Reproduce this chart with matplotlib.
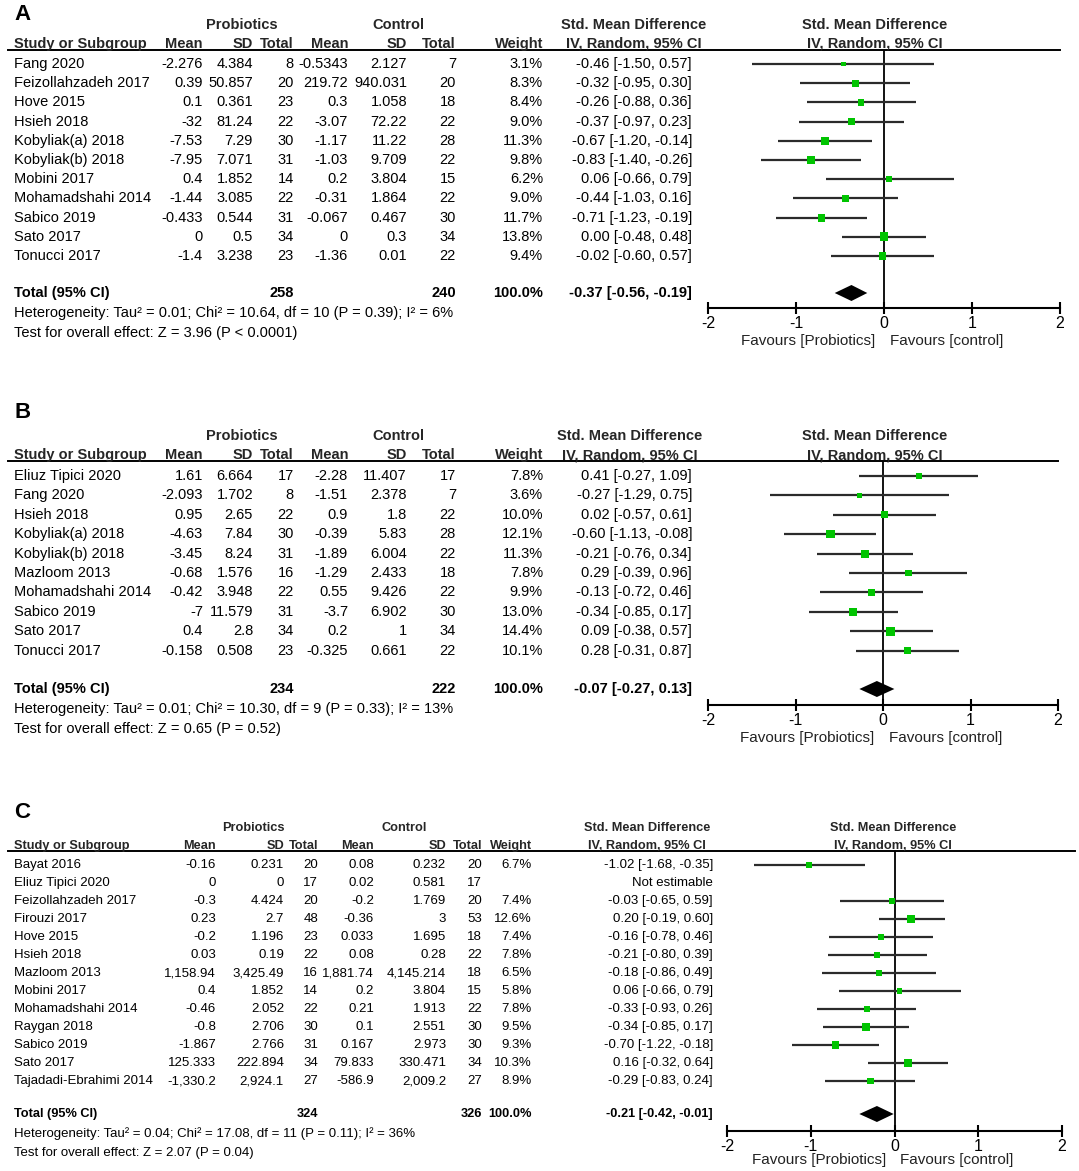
import numpy as np
import matplotlib
matplotlib.use("Agg")
from matplotlib import pyplot as plt

# ---- panel A data ----
studies_a = ["Fang 2020", "Feizollahzadeh 2017", "Hove 2015", "Hsieh 2018", "Kobyliak(a) 2018",
             "Kobyliak(b) 2018", "Mobini 2017", "Mohamadshahi 2014", "Sabico 2019", "Sato 2017", "Tonucci 2017"]
pro_mean_a = ["-2.276", "0.39", "0.1", "-32", "-7.53", "-7.95", "0.4", "-1.44", "-0.433", "0", "-1.4"]
pro_sd_a = ["4.384", "50.857", "0.361", "81.24", "7.29", "7.071", "1.852", "3.085", "0.544", "0.5", "3.238"]
pro_n_a = [8, 20, 23, 22, 30, 31, 14, 22, 31, 34, 23]
ctl_mean_a = ["-0.5343", "219.72", "0.3", "-3.07", "-1.17", "-1.03", "0.2", "-0.31", "-0.067", "0", "-1.36"]
ctl_sd_a = ["2.127", "940.031", "1.058", "72.22", "11.22", "9.709", "3.804", "1.864", "0.467", "0.3", "0.01"]
ctl_n_a = [7, 20, 18, 22, 28, 22, 15, 22, 30, 34, 22]
weight_a = [3.1, 8.3, 8.4, 9.0, 11.3, 9.8, 6.2, 9.0, 11.7, 13.8, 9.4]
smd_a = [-0.46, -0.32, -0.26, -0.37, -0.67, -0.83, 0.06, -0.44, -0.71, 0.00, -0.02]
lo_a = [-1.50, -0.95, -0.88, -0.97, -1.20, -1.40, -0.66, -1.03, -1.23, -0.48, -0.60]
hi_a = [0.57, 0.30, 0.36, 0.23, -0.14, -0.26, 0.79, 0.16, -0.19, 0.48, 0.57]
total_a = [258, 240, -0.37, -0.56, -0.19]
het_a = "Heterogeneity: Tau² = 0.01; Chi² = 10.64, df = 10 (P = 0.39); I² = 6%"
test_a = "Test for overall effect: Z = 3.96 (P < 0.0001)"

# ---- panel B data ----
studies_b = ["Eliuz Tipici 2020", "Fang 2020", "Hsieh 2018", "Kobyliak(a) 2018", "Kobyliak(b) 2018",
             "Mazloom 2013", "Mohamadshahi 2014", "Sabico 2019", "Sato 2017", "Tonucci 2017"]
pro_mean_b = ["1.61", "-2.093", "0.95", "-4.63", "-3.45", "-0.68", "-0.42", "-7", "0.4", "-0.158"]
pro_sd_b = ["6.664", "1.702", "2.65", "7.84", "8.24", "1.576", "3.948", "11.579", "2.8", "0.508"]
pro_n_b = [17, 8, 22, 30, 31, 16, 22, 31, 34, 23]
ctl_mean_b = ["-2.28", "-1.51", "0.9", "-0.39", "-1.89", "-1.29", "0.55", "-3.7", "0.2", "-0.325"]
ctl_sd_b = ["11.407", "2.378", "1.8", "5.83", "6.004", "2.433", "9.426", "6.902", "1", "0.661"]
ctl_n_b = [17, 7, 22, 28, 22, 18, 22, 30, 34, 22]
weight_b = [7.8, 3.6, 10.0, 12.1, 11.3, 7.8, 9.9, 13.0, 14.4, 10.1]
smd_b = [0.41, -0.27, 0.02, -0.60, -0.21, 0.29, -0.13, -0.34, 0.09, 0.28]
lo_b = [-0.27, -1.29, -0.57, -1.13, -0.76, -0.39, -0.72, -0.85, -0.38, -0.31]
hi_b = [1.09, 0.75, 0.61, -0.08, 0.34, 0.96, 0.46, 0.17, 0.57, 0.87]
total_b = [234, 222, -0.07, -0.27, 0.13]
het_b = "Heterogeneity: Tau² = 0.01; Chi² = 10.30, df = 9 (P = 0.33); I² = 13%"
test_b = "Test for overall effect: Z = 0.65 (P = 0.52)"

# ---- panel C data ----
studies_c = ["Bayat 2016", "Eliuz Tipici 2020", "Feizollahzadeh 2017", "Firouzi 2017", "Hove 2015",
             "Hsieh 2018", "Mazloom 2013", "Mobini 2017", "Mohamadshahi 2014", "Raygan 2018",
             "Sabico 2019", "Sato 2017", "Tajadadi-Ebrahimi 2014"]
pro_mean_c = ["-0.16", "0", "-0.3", "0.23", "-0.2", "0.03", "1,158.94", "0.4", "-0.46", "-0.8",
              "-1.867", "125.333", "-1,330.2"]
pro_sd_c = ["0.231", "0", "4.424", "2.7", "1.196", "0.19", "3,425.49", "1.852", "2.052", "2.706",
            "2.766", "222.894", "2,924.1"]
pro_n_c = [20, 17, 20, 48, 23, 22, 16, 14, 22, 30, 31, 34, 27]
ctl_mean_c = ["0.08", "0.02", "-0.2", "-0.36", "0.033", "0.08", "1,881.74", "0.2", "0.21", "0.1",
              "0.167", "79.833", "-586.9"]
ctl_sd_c = ["0.232", "0.581", "1.769", "3", "1.695", "0.28", "4,145.214", "3.804", "1.913", "2.551",
            "2.973", "330.471", "2,009.2"]
ctl_n_c = [20, 17, 20, 53, 18, 22, 18, 15, 22, 30, 30, 34, 27]
weight_c = [6.7, np.nan, 7.4, 12.6, 7.4, 7.8, 6.5, 5.8, 7.8, 9.5, 9.3, 10.3, 8.9]
smd_c = [-1.02, np.nan, -0.03, 0.20, -0.16, -0.21, -0.18, 0.06, -0.33, -0.34, -0.70, 0.16, -0.29]
lo_c = [-1.68, np.nan, -0.65, -0.19, -0.78, -0.80, -0.86, -0.66, -0.93, -0.85, -1.22, -0.32, -0.83]
hi_c = [-0.35, np.nan, 0.59, 0.60, 0.46, 0.39, 0.49, 0.79, 0.26, 0.17, -0.18, 0.64, 0.24]
total_c = [324, 326, -0.21, -0.42, -0.01]
het_c = "Heterogeneity: Tau² = 0.04; Chi² = 17.08, df = 11 (P = 0.11); I² = 36%"
test_c = "Test for overall effect: Z = 2.07 (P = 0.04)"

W, H = 1079, 1171
fig = plt.figure(figsize=(W / 100, H / 100), dpi=100)
bg = fig.add_axes([0, 0, 1, 1])
bg.set_xlim(0, W)
bg.set_ylim(H, 0)
bg.axis("off")

GREEN = "#00c400"
HEAD = "#262626"


def draw_panel(tag, studies, pm, psd, pn, cm, csd, cn, wt, smd, lo, hi, tot, het, test, lay):
    fam = lay["font"]
    fs = lay["fs"]
    hfs = lay["hfs"]
    cols = lay["cols"]

    def t(x, y, s, ha="right", bold=False, color="black", size=None):
        bg.text(x, y, s, ha=ha, va="center", fontsize=size or fs, family=fam,
                fontweight="bold" if bold else "normal", color=color)

    bg.text(14, lay["y_tag"], tag, ha="left", va="center", fontsize=16,
            fontweight="bold", family="Liberation Sans")

    # header
    t(lay["c_pro"], lay["y_h1"], "Probiotics", "center", True, HEAD, hfs)
    t(lay["c_ctl"], lay["y_h1"], "Control", "center", True, HEAD, hfs)
    t(lay["c_smd"], lay["y_h1"], "Std. Mean Difference", "center", True, HEAD, hfs)
    t(lay["c_for"], lay["y_h1"], "Std. Mean Difference", "center", True, HEAD, hfs)
    t(14, lay["y_h2"], "Study or Subgroup", "left", True, HEAD, hfs)
    for key, lab in zip(["pm", "psd", "pn", "cm", "csd", "cn", "wt"],
                        ["Mean", "SD", "Total", "Mean", "SD", "Total", "Weight"]):
        t(cols[key], lay["y_h2"], lab, "right", True, HEAD, hfs)
    t(lay["c_smd"], lay["y_h2"], "IV, Random, 95% CI", "center", True, HEAD, hfs)
    t(lay["c_for"], lay["y_h2"], "IV, Random, 95% CI", "center", True, HEAD, hfs)
    bg.plot([8, lay["x_end"]], [lay["y_line"], lay["y_line"]], color="black", lw=1.4)

    ys = lay["y0"] + lay["dy"] * np.arange(len(studies))
    for i, y in enumerate(ys):
        t(14, y, studies[i], "left")
        t(cols["pm"], y, pm[i])
        t(cols["psd"], y, psd[i])
        t(cols["pn"], y, str(pn[i]))
        t(cols["cm"], y, cm[i])
        t(cols["csd"], y, csd[i])
        t(cols["cn"], y, str(cn[i]))
        if np.isnan(smd[i]):
            t(cols["smd"], y, "Not estimable")
        else:
            t(cols["wt"], y, f"{wt[i]:.1f}%")
            t(cols["smd"], y, f"{smd[i]:.2f} [{lo[i]:.2f}, {hi[i]:.2f}]")

    yt = lay["y_total"]
    t(14, yt, "Total (95% CI)", "left", True, size=hfs)
    t(cols["pn"], yt, str(tot[0]), "right", True, size=hfs)
    t(cols["cn"], yt, str(tot[1]), "right", True, size=hfs)
    t(cols["wt"], yt, "100.0%", "right", True, size=hfs)
    t(cols["smd"], yt, f"{tot[2]:.2f} [{tot[3]:.2f}, {tot[4]:.2f}]", "right", True, size=hfs)
    t(14, lay["y_het"], het, "left")
    t(14, lay["y_test"], test, "left")

    # forest part
    x0, x1 = lay["fx"]
    ytop, ybot = lay["y_line"], lay["y_axis"]
    ax = fig.add_axes([x0 / W, (H - ybot) / H, (x1 - x0) / W, (ybot - ytop) / H])
    ax.set_xlim(-2, 2)
    ax.set_ylim(ybot, ytop)
    ax.patch.set_alpha(0)
    for s in ["top", "left", "right"]:
        ax.spines[s].set_visible(False)
    ax.spines["bottom"].set_linewidth(1.5)
    ax.set_yticks([])
    ax.set_xticks([-2, -1, 0, 1, 2])
    ax.set_xticklabels(["-2", "-1", "0", "1", "2"], fontsize=11.5, family="Liberation Sans")
    ax.tick_params(axis="x", direction="inout", length=9, width=1.5, pad=1)
    ax.axvline(0, color="black", lw=1.3)

    smd = np.array(smd, dtype=float)
    ok = ~np.isnan(smd)
    ax.hlines(ys[ok], np.array(lo)[ok], np.array(hi)[ok], color="#2b2b2b", lw=1.6)
    ax.scatter(smd[ok], ys[ok], marker="s", s=2.8 * np.array(wt)[ok], color=GREEN,
               linewidths=0, zorder=3)
    h = 8
    ax.fill([tot[3], tot[2], tot[4], tot[2]], [yt, yt - h, yt, yt + h], color="black", lw=0)
    ax.text(-0.1, lay["y_fav"], "Favours [Probiotics]", ha="right", va="center",
            fontsize=11, family="Liberation Sans", color="#222222")
    ax.text(0.07, lay["y_fav"], "Favours [control]", ha="left", va="center",
            fontsize=11, family="Liberation Sans", color="#222222")


cols_ab = dict(pm=203, psd=253, pn=294, cm=348, csd=407, cn=456, wt=543, smd=692)
lay_a = dict(font="Liberation Sans", fs=10.5, hfs=10.5, cols=cols_ab, c_pro=242, c_ctl=398,
             c_smd=634, c_for=875, y_tag=15, y_h1=25, y_h2=44, y_line=50, y0=64, dy=19.2,
             y_total=293, y_het=313, y_test=333, y_axis=308, y_fav=341, fx=(708, 1060), x_end=1060)
lay_b = dict(font="Liberation Sans", fs=10.5, hfs=10.5, cols=cols_ab, c_pro=242, c_ctl=398,
             c_smd=630, c_for=875, y_tag=412, y_h1=436, y_h2=455, y_line=461, y0=476, dy=19.4,
             y_total=689, y_het=709, y_test=729, y_axis=705, y_fav=738, fx=(708, 1058), x_end=1058)
cols_c = dict(pm=216, psd=284, pn=318, cm=374, csd=446, cn=482, wt=532, smd=713)
lay_c = dict(font="Liberation Sans", fs=9.5, hfs=9.2, cols=cols_c,
             c_pro=253, c_ctl=404, c_smd=647, c_for=893, y_tag=812, y_h1=828, y_h2=846,
             y_line=851, y0=865, dy=18, y_total=1114, y_het=1134, y_test=1153, y_axis=1131,
             y_fav=1160, fx=(727, 1062), x_end=1075)

draw_panel("A", studies_a, pro_mean_a, pro_sd_a, pro_n_a, ctl_mean_a, ctl_sd_a, ctl_n_a,
           weight_a, smd_a, lo_a, hi_a, total_a, het_a, test_a, lay_a)
draw_panel("B", studies_b, pro_mean_b, pro_sd_b, pro_n_b, ctl_mean_b, ctl_sd_b, ctl_n_b,
           weight_b, smd_b, lo_b, hi_b, total_b, het_b, test_b, lay_b)
draw_panel("C", studies_c, pro_mean_c, pro_sd_c, pro_n_c, ctl_mean_c, ctl_sd_c, ctl_n_c,
           weight_c, smd_c, lo_c, hi_c, total_c, het_c, test_c, lay_c)

fig.savefig("out.png", dpi=100)
